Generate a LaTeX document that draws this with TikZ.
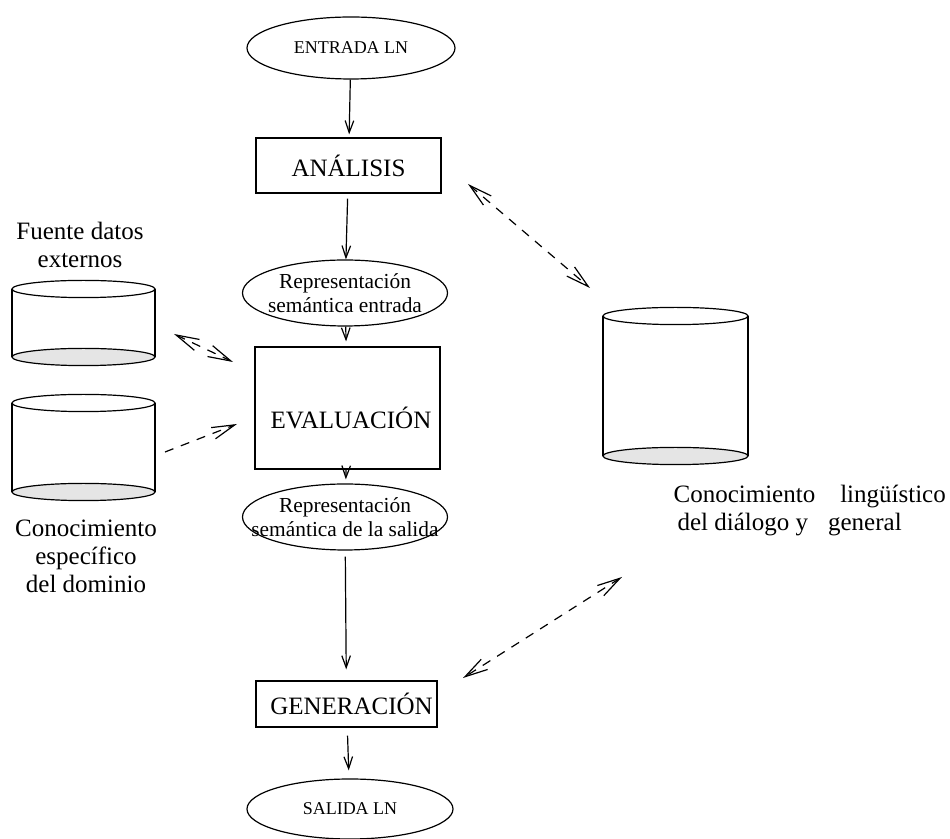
\documentclass[tikz,border=0pt]{standalone}
\usepackage{fontspec}
\setmainfont{Liberation Serif}
\usetikzlibrary{shapes.geometric,arrows.meta}

\begin{document}
\begin{tikzpicture}[x=0.5pt,y=-0.5pt,line width=0.6pt,
  bigfont/.style={font=\fontsize{12.5}{14}\selectfont},
  midfont/.style={font=\fontsize{10.7}{12}\selectfont},
  smallfont/.style={font=\fontsize{9}{10.5}\selectfont},
  stage/.style={draw,rectangle,inner sep=0pt,minimum width=92.5pt,bigfont},
  repr/.style={draw,ellipse,inner sep=0pt,align=center},
  flow/.style={-{Straight Barb[length=6pt,width=4.3pt]}},
  dashline/.style={dash pattern=on 4.5pt off 4pt},
  both/.style={dashline,{Straight Barb[length=11.5pt,width=6pt]}-{Straight Barb[length=11.5pt,width=6pt]}},
  oneway/.style={dashline,-{Straight Barb[length=11.5pt,width=6pt]}},
  store/.style={align=center,bigfont}
]
\useasboundingbox (0,0) rectangle (950,839);

% ---- processing chain ----
\node[repr,smallfont,minimum width=104pt,minimum height=31pt] (ent) at (351,48) {ENTRADA LN};
\node[stage,minimum height=27.5pt] (ana) at (348.5,165.5) {ANÁLISIS};
\node[repr,midfont,inner xsep=-2.4pt,minimum width=102.5pt,minimum height=33pt] (rin) at (345,293) {Representación\\semántica entrada};
\node[stage,minimum height=61pt,label={[bigfont,xshift=1.75pt,yshift=-5pt]center:EVALUACIÓN}] (eva) at (347.5,408) {};
\node[repr,midfont,inner xsep=-11.4pt,minimum width=102.5pt,minimum height=33pt] (rout) at (345,517) {Representación\\semántica de la salida};
\node[stage,minimum width=90.5pt,minimum height=23pt,label={[bigfont,xshift=2.5pt]center:GENERACIÓN}] (gen) at (346.5,704) {};
\node[repr,smallfont,minimum width=103pt,minimum height=30pt] (sal) at (350,809) {SALIDA LN};

\draw[flow,shorten >=1.5pt] (ent) -- (ana);
\draw[flow,shorten <=2.5pt] (ana) -- (rin);
\draw[flow,shorten >=2.5pt] (rin) -- (eva);
\draw[flow,shorten >=2pt] (eva) -- (rout);
\draw[flow,shorten <=3pt,shorten >=5.5pt] (rout) -- (gen);
\draw[flow,shorten <=4pt,shorten >=4pt] (gen) -- (sal);

% ---- knowledge stores (cylinders) ----
\foreach \l/\r/\t/\b in {12/155/289/357, 12/155/403/492, 603/748/316/456}{
  \fill[gray!20] ({(\l+\r)/2},\b) ellipse [x radius={(\r-\l)/4*1pt}, y radius=4.3pt];
  \draw ({(\l+\r)/2},\b) ellipse [x radius={(\r-\l)/4*1pt}, y radius=4.3pt];
  \draw[fill=white] ({(\l+\r)/2},\t) ellipse [x radius={(\r-\l)/4*1pt}, y radius=4.3pt];
  \draw (\l,\t) -- (\l,\b) (\r,\t) -- (\r,\b);
}

\node[store] (extlbl) at (80,245) {Fuente datos\\externos};
\node[store] (domlbl) at (86,556) {Conocimiento\\específico\\del dominio};
\node[store,align=left,anchor=west,inner sep=0pt] (linglbl) at (673,511)
  {Conocimiento\hspace{12.5pt}lingüístico\\\hspace*{2pt}del diálogo y\hspace{10pt}general};

% ---- links to the stores ----
\coordinate (a1) at (468,184);
\coordinate (a2) at (590,288);
\coordinate (b1) at (174,334);
\coordinate (b2) at (233,362);
\coordinate (c1) at (165,452);
\coordinate (c2) at (237,424);
\coordinate (d1) at (622,577);
\coordinate (d2) at (463,678);

\draw[both] (a1) -- (a2);
\draw[both] (b1) -- (b2);
\draw[oneway] (c1) -- (c2);
\draw[both] (d1) -- (d2);
\end{tikzpicture}
\end{document}
